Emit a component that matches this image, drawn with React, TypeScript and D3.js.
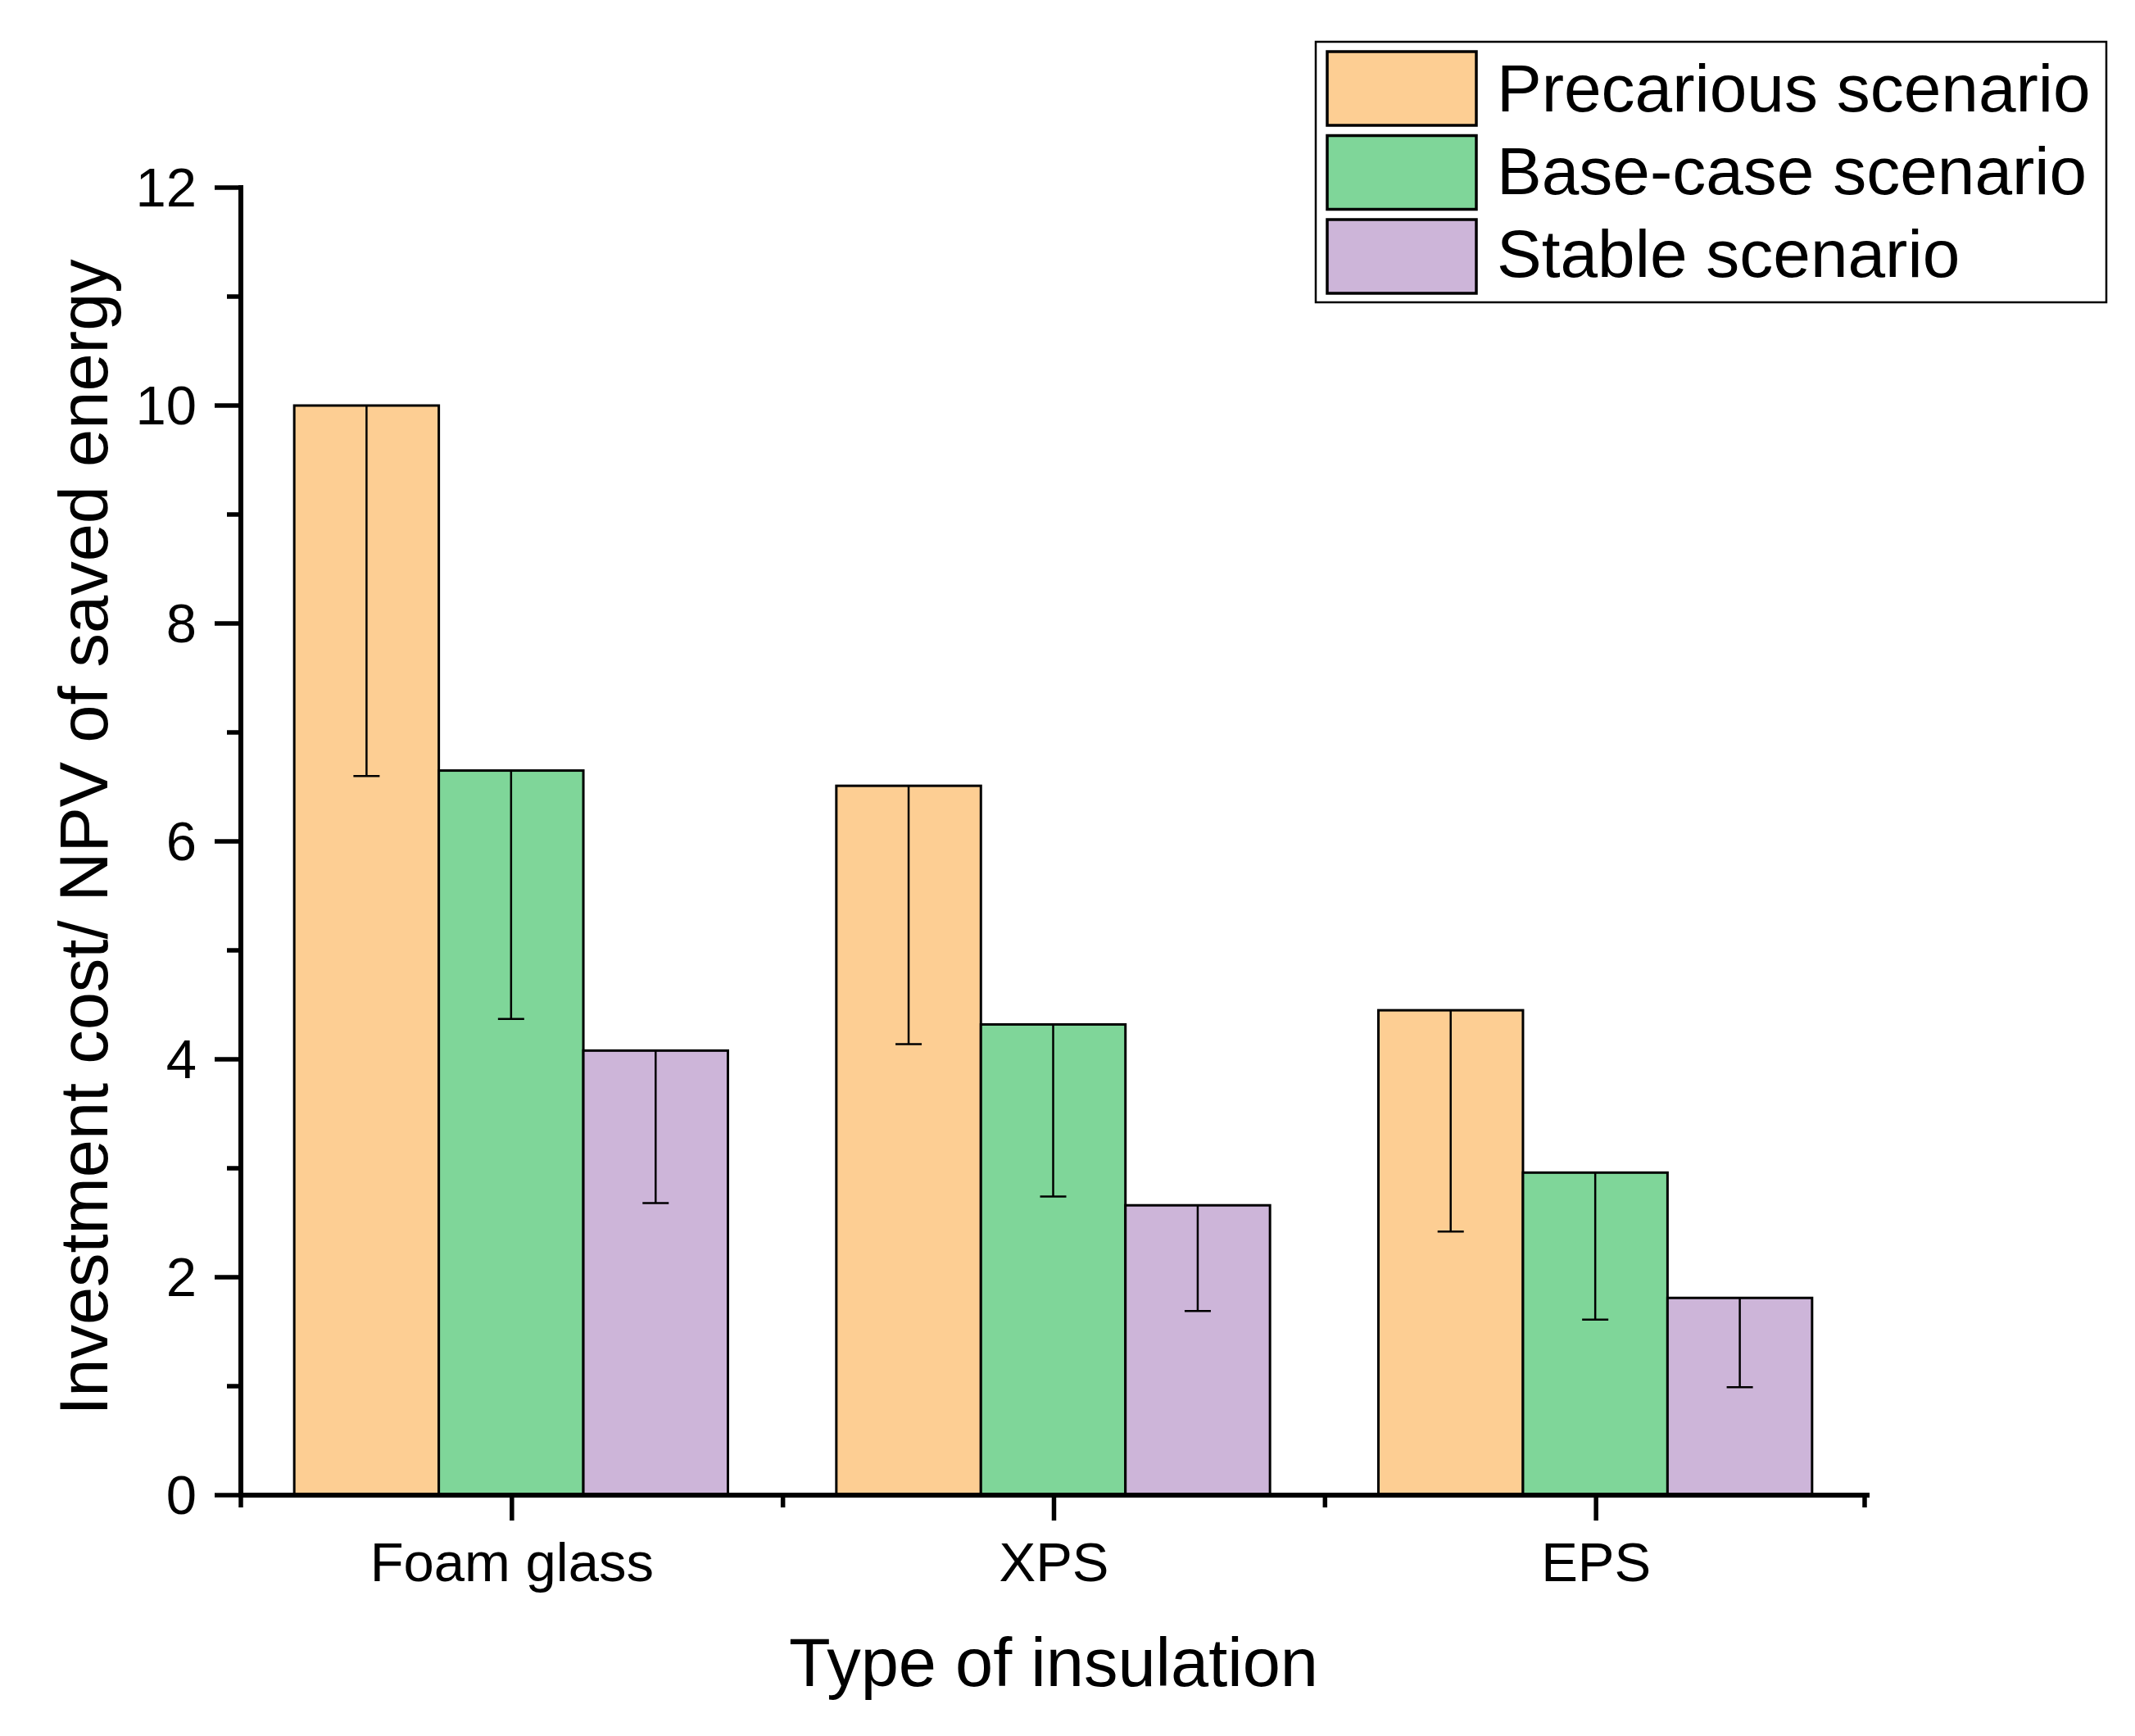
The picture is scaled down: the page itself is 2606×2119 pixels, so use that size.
import React from "react";
import * as d3 from "d3";

const categories = ["Foam glass", "XPS", "EPS"];
const seriesNames = ["Precarious scenario", "Base-case scenario", "Stable scenario"];
const seriesColors = ["#FDCE93", "#7FD699", "#CDB5D9"];
const precarious = [10.0, 6.51, 4.45];
const baseCase = [6.65, 4.32, 2.96];
const stable = [4.08, 2.66, 1.81];
const precariousErr = [3.4, 2.37, 2.03];
const baseCaseErr = [2.28, 1.58, 1.35];
const stableErr = [1.4, 0.97, 0.82];
const yTicks = [0, 2, 4, 6, 8, 10, 12];
const yMinorTicks = [1, 3, 5, 7, 9, 11];

const W = 2606;
const H = 2119;
const FONT = "'Liberation Sans', Arial, sans-serif";

export default function App() {
  const values = [precarious, baseCase, stable];
  const errs = [precariousErr, baseCaseErr, stableErr];
  const x0 = 294, x1 = 2279, yTop = 229, yBot = 1825;
  const x = d3.scaleBand<string>().domain(categories).range([x0, x1]).paddingInner(0).paddingOuter(0);
  const y = d3.scaleLinear().domain([0, 12]).range([yBot, yTop]);
  const bw = x.bandwidth();
  const inner = d3.scaleBand<number>().domain([0, 1, 2]).range([0.1 * bw - 1, 0.9 * bw - 1]).padding(0);
  const boundaries = [0, 1, 2, 3].map((i) => x0 + i * bw);

  return (
    <svg width={W} height={H} style={{ position: "absolute", left: 0, top: 0, background: "#fff" }}
      fontFamily={FONT}>
      <rect x={0} y={0} width={W} height={H} fill="#fff" />
      {categories.map((c, ci) =>
        values.map((vals, si) => {
          const bx = (x(c) as number) + (inner(si) as number);
          const w = inner.bandwidth();
          return (
            <rect key={`b${ci}-${si}`} x={bx} y={y(vals[ci])} width={w} height={y(0) - y(vals[ci])}
              fill={seriesColors[si]} stroke="#000" strokeWidth={3} />
          );
        })
      )}
      {categories.map((c, ci) =>
        values.map((vals, si) => {
          const cx = (x(c) as number) + (inner(si) as number) + inner.bandwidth() / 2;
          const top = y(vals[ci]);
          const bot = y(vals[ci] - errs[si][ci]);
          return (
            <g key={`e${ci}-${si}`} stroke="#000" strokeWidth={2.5}>
              <line x1={cx} x2={cx} y1={top} y2={bot} />
              <line x1={cx - 16} x2={cx + 16} y1={bot} y2={bot} />
            </g>
          );
        })
      )}
      <line x1={x0} x2={x0} y1={yTop - 3} y2={yBot + 3} stroke="#000" strokeWidth={6} />
      <line x1={x0 - 3} x2={x1 + 3} y1={yBot} y2={yBot} stroke="#000" strokeWidth={6} />
      {yTicks.map((t) => (
        <g key={`yt${t}`}>
          <line x1={x0 - 32} x2={x0} y1={y(t)} y2={y(t)} stroke="#000" strokeWidth={5.5} />
          <text x={240} y={y(t) + 23} textAnchor="end" fontSize={67} fill="#000">{t}</text>
        </g>
      ))}
      {yMinorTicks.map((t) => (
        <line key={`ym${t}`} x1={x0 - 17} x2={x0} y1={y(t)} y2={y(t)} stroke="#000" strokeWidth={5.5} />
      ))}
      {boundaries.map((bx, i) => (
        <line key={`xm${i}`} x1={i === 3 ? bx - 3 : bx} x2={i === 3 ? bx - 3 : bx} y1={yBot} y2={yBot + 15}
          stroke="#000" strokeWidth={5.5} />
      ))}
      {categories.map((c) => {
        const cx = (x(c) as number) + bw / 2;
        return (
          <g key={`xt${c}`}>
            <line x1={cx} x2={cx} y1={yBot} y2={yBot + 31} stroke="#000" strokeWidth={5.5} />
            <text x={cx} y={1930} textAnchor="middle" fontSize={67} fill="#000">{c}</text>
          </g>
        );
      })}
      <text x={1286} y={2058} textAnchor="middle" fontSize={83} fill="#000">Type of insulation</text>
      <text transform={`translate(131,1022) rotate(-90)`} textAnchor="middle" fontSize={83} fill="#000">
        Investment cost/ NPV of saved energy
      </text>
      <rect x={1606} y={51} width={965} height={318} fill="#fff" stroke="#000" strokeWidth={2.5} />
      {seriesNames.map((n, i) => (
        <g key={`lg${i}`}>
          <rect x={1620} y={63 + i * 102.5} width={182} height={90} fill={seriesColors[i]} stroke="#000" strokeWidth={3.5} />
          <text x={1827} y={136 + i * 101} fontSize={82} fill="#000">{n}</text>
        </g>
      ))}
    </svg>
  );
}
